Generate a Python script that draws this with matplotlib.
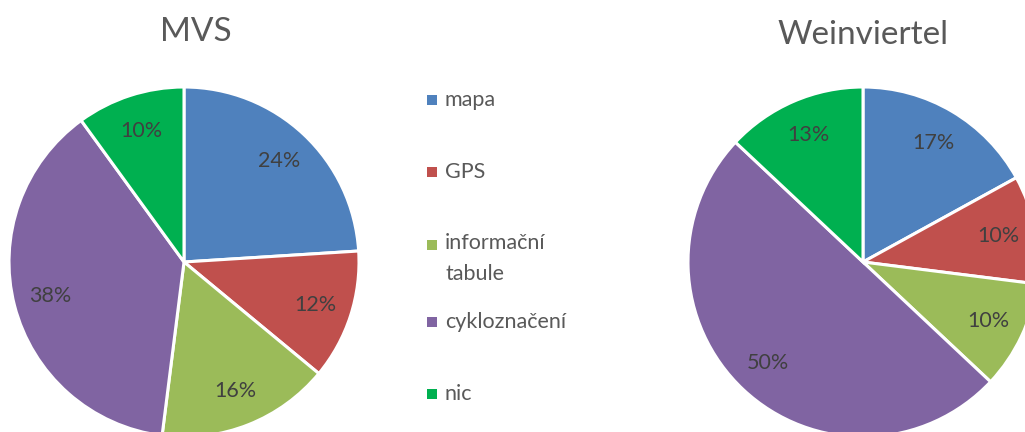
import matplotlib.pyplot as plt

# Data
categories = ['mapa', 'GPS', 'informační\ntabule', 'cykloznačení', 'nic']
mvs_values = [24, 12, 16, 38, 10]
weinviertel_values = [17, 10, 10, 50, 13]
colors = ['#4F81BD', '#C0504D', '#9BBB59', '#8064A2', '#00B050']

plt.rcParams['font.family'] = ['Lato', 'DejaVu Sans']

fig = plt.figure(figsize=(10.25, 4.32), dpi=100)
ax = fig.add_axes([0, 0, 1, 1])

# both pies drawn in pixel-like coordinates (y up)
pie_style = dict(colors=colors, startangle=90, counterclock=False, radius=175,
                 autopct='%1.0f%%', pctdistance=0.79,
                 wedgeprops=dict(edgecolor='white', linewidth=2.2),
                 textprops=dict(color='#404040', fontsize=15.5))
ax.pie(mvs_values, center=(184, 170), **pie_style)
ax.pie(weinviertel_values, center=(863, 170), **pie_style)

ax.set_xlim(0, 1025)
ax.set_ylim(0, 432)
ax.set_aspect('equal')
ax.axis('off')

# Titles
ax.text(196, 400, 'MVS', ha='center', va='center', fontsize=24, color='#595959')
ax.text(863, 397, 'Weinviertel', ha='center', va='center', fontsize=24, color='#595959')

# Legend (manual, Excel-like spacing)
legend_y = [332, 260, 187, 110, 38]
for lab, col, y in zip(categories, colors, legend_y):
    ax.scatter([432], [y], marker='s', s=60, color=col, linewidths=0)
    if '\n' in lab:
        ax.text(445, y + 12, lab, ha='left', va='top', fontsize=15.5,
                color='#595959', linespacing=1.68)
    else:
        ax.text(445, y, lab, ha='left', va='center', fontsize=15.5,
                color='#595959')

plt.savefig('out.png', dpi=100)
